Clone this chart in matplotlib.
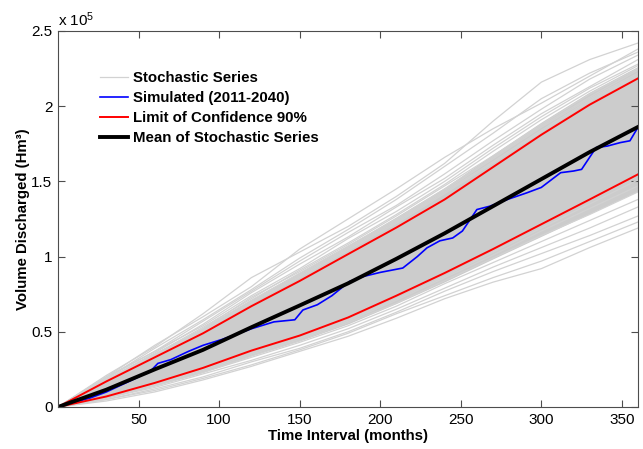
import numpy as np
import matplotlib
matplotlib.use("Agg")
from matplotlib import pyplot as plt

plt.rcParams['font.family'] = ['Liberation Sans', 'DejaVu Sans']
plt.rcParams['mathtext.default'] = 'regular'

# values in units of 1e5 Hm3, sampled every 30 months
months = [0, 30, 60, 90, 120, 150, 180, 210, 240, 270, 300, 330, 360]

mean_series = [0, 0.115, 0.25, 0.38, 0.53, 0.675, 0.822, 0.985, 1.155, 1.335, 1.515, 1.695, 1.862]
conf_upper = [0, 0.17, 0.33, 0.49, 0.67, 0.838, 1.016, 1.193, 1.38, 1.595, 1.81, 2.01, 2.185]
conf_lower = [0, 0.07, 0.16, 0.26, 0.375, 0.475, 0.595, 0.74, 0.891, 1.05, 1.215, 1.38, 1.547]

# dense part of the stochastic bundle
core_hi = [0, 0.18, 0.355, 0.525, 0.715, 0.895, 1.075, 1.265, 1.46, 1.68, 1.895, 2.095, 2.265]
core_lo = [0, 0.062, 0.142, 0.232, 0.34, 0.44, 0.552, 0.688, 0.832, 0.985, 1.135, 1.285, 1.435]

# individual stochastic series visible outside the dense band
stoch_upper = [
    [0, 0.21, 0.40, 0.62, 0.86, 1.03, 1.20, 1.40, 1.62, 1.90, 2.16, 2.31, 2.42],
    [0, 0.20, 0.41, 0.60, 0.80, 1.05, 1.25, 1.45, 1.66, 1.85, 2.02, 2.20, 2.38],
    [0, 0.19, 0.39, 0.58, 0.78, 0.99, 1.18, 1.38, 1.60, 1.82, 2.05, 2.22, 2.36],
    [0, 0.20, 0.37, 0.57, 0.77, 0.97, 1.16, 1.34, 1.55, 1.77, 1.98, 2.18, 2.34],
    [0, 0.18, 0.36, 0.55, 0.76, 0.95, 1.13, 1.33, 1.52, 1.74, 1.95, 2.13, 2.31],
    [0, 0.19, 0.37, 0.54, 0.74, 0.92, 1.12, 1.30, 1.50, 1.72, 1.93, 2.12, 2.28],
    [0, 0.18, 0.35, 0.53, 0.72, 0.91, 1.09, 1.28, 1.48, 1.70, 1.91, 2.10, 2.27],
    [0, 0.17, 0.35, 0.52, 0.73, 0.90, 1.08, 1.27, 1.47, 1.67, 1.88, 2.08, 2.25],
    [0, 0.18, 0.34, 0.52, 0.71, 0.89, 1.07, 1.25, 1.45, 1.66, 1.87, 2.06, 2.24],
    [0, 0.17, 0.34, 0.51, 0.70, 0.88, 1.06, 1.24, 1.44, 1.65, 1.86, 2.05, 2.22],
    [0, 0.18, 0.35, 0.51, 0.69, 0.87, 1.05, 1.23, 1.43, 1.63, 1.84, 2.04, 2.21],
    [0, 0.17, 0.34, 0.50, 0.69, 0.86, 1.04, 1.22, 1.42, 1.62, 1.83, 2.03, 2.20],
]
stoch_lower = [
    [0, 0.04, 0.10, 0.18, 0.27, 0.37, 0.47, 0.59, 0.72, 0.83, 0.92, 1.06, 1.19],
    [0, 0.05, 0.11, 0.19, 0.28, 0.38, 0.49, 0.62, 0.74, 0.86, 0.97, 1.10, 1.23],
    [0, 0.05, 0.12, 0.20, 0.30, 0.39, 0.50, 0.63, 0.77, 0.90, 1.02, 1.14, 1.27],
    [0, 0.06, 0.13, 0.22, 0.31, 0.41, 0.52, 0.65, 0.79, 0.93, 1.06, 1.19, 1.33],
    [0, 0.06, 0.14, 0.23, 0.33, 0.43, 0.54, 0.67, 0.82, 0.96, 1.10, 1.24, 1.38],
    [0, 0.06, 0.14, 0.23, 0.34, 0.44, 0.56, 0.69, 0.84, 0.99, 1.14, 1.28, 1.43],
    [0, 0.07, 0.15, 0.24, 0.35, 0.45, 0.57, 0.71, 0.86, 1.01, 1.17, 1.32, 1.47],
    [0, 0.07, 0.15, 0.25, 0.36, 0.46, 0.58, 0.72, 0.87, 1.03, 1.19, 1.35, 1.51],
]

# simulated 2011-2040 series
sim_months = [0, 10, 20, 30, 40, 50, 58, 62, 70, 81, 90, 102, 111, 120, 134, 147, 152,
              161, 170, 181, 190, 200, 214, 223, 229, 237, 245, 251, 260, 268, 279, 291,
              300, 312, 320, 325, 334, 341, 349, 355, 360]
sim_values = [0, 0.03, 0.06, 0.10, 0.15, 0.20, 0.245, 0.29, 0.315, 0.37, 0.41, 0.45, 0.485,
              0.52, 0.566, 0.58, 0.645, 0.68, 0.74, 0.835, 0.869, 0.895, 0.924, 1.0, 1.058,
              1.105, 1.124, 1.17, 1.313, 1.335, 1.38, 1.424, 1.46, 1.558, 1.569, 1.58, 1.725,
              1.735, 1.758, 1.77, 1.86]

axis_color = '#4d4d4d'
gray = '#d2d2d2'

fig = plt.figure(figsize=(6.43, 4.49), dpi=100)
ax = fig.add_axes([58 / 643, 42 / 449, 580 / 643, 376 / 449])

ax.fill_between(months, core_lo, core_hi, color='#cccccc', linewidth=0)
for i, s in enumerate(stoch_upper + stoch_lower):
    ax.plot(months, s, color=gray, lw=0.9, label='Stochastic Series' if i == 0 else None)

ax.plot(sim_months, sim_values, color='#0000ff', lw=1.2, label='Simulated (2011-2040)')
ax.plot(months, conf_upper, color='#ff0000', lw=1.4, label='Limit of Confidence 90%')
ax.plot(months, conf_lower, color='#ff0000', lw=1.4)
ax.plot(months, mean_series, color='black', lw=2.8, label='Mean of Stochastic Series')

# legend order as in the figure
handles, labels = ax.get_legend_handles_labels()
order = [labels.index(l) for l in ['Stochastic Series', 'Simulated (2011-2040)',
                                   'Limit of Confidence 90%', 'Mean of Stochastic Series']]
ax.legend([handles[i] for i in order], [labels[i] for i in order],
          loc='upper left', bbox_to_anchor=(0.072, 0.894), frameon=False,
          prop={'weight': 'bold', 'size': 10.8}, handlelength=1.87, handletextpad=0.33,
          labelspacing=0.41, borderpad=0, borderaxespad=0)

ax.set_xlim(0, 360)
ax.set_ylim(0, 2.5)
ax.set_xticks([50, 100, 150, 200, 250, 300, 350])
ax.set_yticks([0, 0.5, 1, 1.5, 2, 2.5])
ax.set_yticklabels(['0', '0.5', '1', '1.5', '2', '2.5'])
ax.tick_params(direction='in', length=5, width=0.8, top=True, right=True,
               labelsize=11, color=axis_color, pad=4)
for sp in ax.spines.values():
    sp.set_color(axis_color)
    sp.set_linewidth(0.8)

ax.text(0, 1.006, 'x 10$^{5}$', transform=ax.transAxes, ha='left', va='bottom', fontsize=11)
ax.set_xlabel('Time Interval (months)', fontweight='bold', fontsize=10.8, labelpad=2)
ax.set_ylabel('Volume Discharged (Hm\u00b3)', fontweight='bold', fontsize=10.8, labelpad=1)

plt.savefig('out.png', dpi=100)
